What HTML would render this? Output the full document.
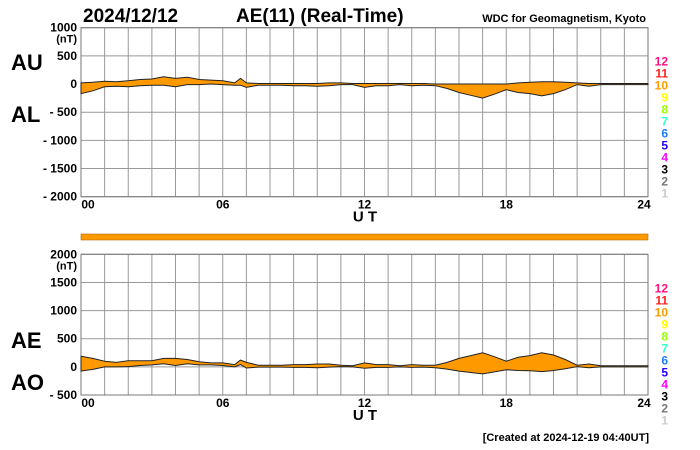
<!DOCTYPE html>
<html><head><meta charset="utf-8"><style>
body{margin:0;background:#fff;width:700px;height:450px;overflow:hidden}
svg{display:block;font-family:"Liberation Sans",Arial,sans-serif;font-weight:bold}
</style></head><body>
<svg id="c" width="700" height="450"></svg>
<script>
const hours=[0,0.5,1,1.5,2,2.5,3,3.5,4,4.5,5,5.5,6,6.5,6.75,7,7.5,8,8.5,9,9.5,10,10.5,11,11.5,12,12.5,13,13.5,14,14.5,15,15.5,16,16.5,17,17.5,18,18.5,19,19.5,20,20.5,21,21.5,22,22.5,23,23.5,24];
const auValues=[20,30,50,40,60,80,90,130,100,120,80,70,60,20,100,20,10,10,10,10,10,10,20,20,10,10,10,10,10,10,10,0,0,0,0,0,0,0,20,30,40,40,30,20,10,10,10,10,10,10];
const alValues=[-170,-120,-50,-40,-50,-30,-20,-20,-50,-10,-10,0,-10,-20,-20,-60,-20,-20,-20,-30,-30,-40,-30,-10,-10,-60,-30,-30,-10,-30,-20,-30,-80,-150,-200,-250,-180,-100,-150,-170,-210,-170,-100,-10,-40,-10,-10,-10,-10,-10];
const xTicks=["00","06","12","18","24"];
const topYTicks=[1000,500,0,-500,-1000,-1500,-2000];
const botYTicks=[2000,1500,1000,500,0,-500];
const levelLabels=["12","11","10","9","8","7","6","5","4","3","2","1"];
const levelColors=["#ff0f7f","#ff2020","#ff9900","#ffff00","#99ff00","#33ffcc","#1f7fff","#2200ff","#ff00ff","#000","#777","#ccc"];

const NS="http://www.w3.org/2000/svg",svg=document.getElementById('c');
function mk(t,a,txt,p){const e=document.createElementNS(NS,t);for(const k in a)e.setAttribute(k,a[k]);if(txt!=null)e.textContent=txt;(p||svg).appendChild(e);return e;}
const X0=81,X1=648;
const x=h=>X0+(X1-X0)*h/24;
function panel(top,bot,vmax,vmin,ticks,name){
  const y=v=>top+(bot-top)*(vmax-v)/(vmax-vmin);
  const g=mk('g',{});
  
  
  for(let h=0;h<=24;h++){const l=mk('line',{x1:x(h),x2:x(h),y1:top,y2:bot,stroke:'#999','stroke-width':1},null,g);}
  ticks.forEach((v,i)=>{
    mk('line',{x1:X0,x2:X1,y1:y(v),y2:y(v),stroke:'#999','stroke-width':1},null,g);
    const t=mk('text',{x:77,y:y(v)+4,'font-size':12,'text-anchor':'end'},(v<0?'- ':'')+Math.abs(v),g);
    
    
    if(i==0){const u=mk('text',{x:77,y:y(v)+15,'font-size':11,'text-anchor':'end'},'(nT)',g);
      }
  });
  mk('rect',{x:X0,y:top,width:X1-X0,height:bot-top,fill:'none',stroke:'#777'},null,g);
  xTicks.forEach((s,i)=>{const t=mk('text',{x:x(i*6)+(i==0?7:i==4?-4:0),y:bot+12,'font-size':12,'text-anchor':'middle'},s,g);
    });
  const ut=mk('text',{x:365,y:bot+25,'font-size':15,'text-anchor':'middle'},'U T',g);
  
  levelLabels.forEach((s,i)=>{const t=mk('text',{x:668,y:top+38+i*12,'font-size':12,'text-anchor':'end',fill:levelColors[i]},s,g);
    });
  return {y,g};
}
function band(p,up,lo,name){
  let d='M';
  hours.forEach((h,i)=>d+=(i?'L':'')+x(h).toFixed(1)+','+p.y(up[i]).toFixed(1));
  for(let i=hours.length-1;i>=0;i--)d+='L'+x(hours[i]).toFixed(1)+','+p.y(lo[i]).toFixed(1);
  const e=mk('path',{d:d+'Z',fill:'#ff9900',stroke:'#222','stroke-width':1},null,p.g);
  
  
}
const p1=panel(27.7,196.7,1000,-2000,topYTicks,'au-al');
band(p1,auValues,alValues,'au-al-band');
const p2=panel(254.3,395,2000,-500,botYTicks,'ae-ao');
const aeValues=auValues.map((u,i)=>u-alValues[i]);
const aoValues=auValues.map((u,i)=>(u+alValues[i])/2);
band(p2,aeValues,aoValues,'ae-ao-band');
const bar=mk('rect',{x:X0,y:234,width:X1-X0,height:6,fill:'#ff9900',stroke:'#b36b00','stroke-width':0.6});

function label(s,xx,yy,fs,name,anchor){const t=mk('text',{x:xx,y:yy,'font-size':fs,'text-anchor':anchor||'start'},s);
  }
label('2024/12/12',83,22,19,'date-title');
label('AE(11) (Real-Time)',236,22,19,'chart-title');
label('WDC for Geomagnetism, Kyoto',646,22,11,'source-label','end');
label('AU',11,70,22,'au-label');
label('AL',11,122,22,'al-label');
label('AE',11,348,22,'ae-label');
label('AO',11,390,22,'ao-label');
label('[Created at 2024-12-19 04:40UT]',649,441,11,'created-label','end');
</script>
</body></html>
